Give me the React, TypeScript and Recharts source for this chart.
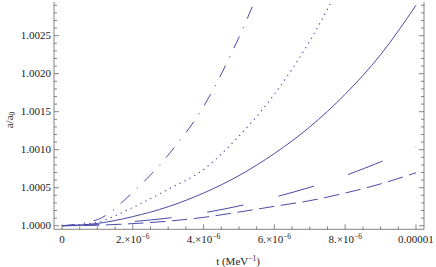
import React from 'react';
import { LineChart, Line, XAxis, YAxis } from 'recharts';

// time values (MeV^-1)
const tValues = [0, 0.000001, 0.000002, 0.000003, 0.000004, 0.000005, 0.000006, 0.000007, 0.000008, 0.000009, 0.00001];
// a/a0 for each curve
const solidCurve = [1.0, 1.00003, 1.00012, 1.00025, 1.00043, 1.00066, 1.00095, 1.0013, 1.00173, 1.00225, 1.0029];
const dottedCurve = [1.0, 1.00005, 1.00024, 1.00048, 1.00074, 1.00118, 1.00173, 1.00243, 1.0033, null, null];
const dashDotCurve = [1.0, 1.00008, 1.00044, 1.00093, 1.00157, 1.00248, 1.0036, null, null, null, null];
const longDashCurve = [1.0, 1.000015, 1.000055, 1.0001, 1.00017, 1.00026, 1.000375, 1.000505, 1.00066, 1.00084, 1.00104];
const dashedCurve = [1.0, 1.000007, 1.000028, 1.00006, 1.00011, 1.00018, 1.000255, 1.00033, 1.00043, 1.00055, 1.000697];

const xMajorTicks = [0, 0.000002, 0.000004, 0.000006, 0.000008, 0.00001];
const xTickLabels = [
  { base: '0', sup: '' },
  { base: '2.\u00d710', sup: '\u22126' },
  { base: '4.\u00d710', sup: '\u22126' },
  { base: '6.\u00d710', sup: '\u22126' },
  { base: '8.\u00d710', sup: '\u22126' },
  { base: '0.00001', sup: '' },
];
const yMajorTicks = [1.0, 1.0005, 1.001, 1.0015, 1.002, 1.0025];
const yTickLabels = ['1.0000', '1.0005', '1.0010', '1.0015', '1.0020', '1.0025'];

const X_MINOR = 0.0000005;
const Y_MINOR = 0.0001;
const xDomain = [-0.000000226, 0.000010226];
const yDomain = [0.999953, 1.002943];

const data = tValues.map((t, i) => ({
  t,
  solid: solidCurve[i],
  dotted: dottedCurve[i],
  dashDot: dashDotCurve[i],
  longDash: longDashCurve[i],
  dashed: dashedCurve[i],
}));

const xTicksAll: number[] = [];
for (let k = 0; k <= 20; k++) xTicksAll.push(k * X_MINOR);
const yTicksAll: number[] = [];
for (let k = 0; k <= 29; k++) yTicksAll.push(1 + k * Y_MINOR);

const FRAME = '#666666';
const LINE = '#4a4aa6';
const FONT = "'Liberation Serif', 'Times New Roman', serif";
const FS = 11;
const SUP = 7.5;

const makeXTick = (side: 'top' | 'bottom') => (props: any) => {
  const { x, y, payload } = props;
  const v = payload.value;
  const k = Math.round(v / X_MINOR);
  const major = k % 4 === 0;
  const len = major ? 5 : 3;
  const dir = side === 'bottom' ? -1 : 1;
  let label = null;
  if (side === 'bottom' && major) {
    const idx = xMajorTicks.findIndex((m) => Math.abs(m - v) < 1e-9);
    const lab = xTickLabels[idx];
    if (lab) {
      label = (
        <text x={x} y={y + 14} textAnchor="middle" style={{ fontFamily: FONT, fontSize: FS }} fill="#222">
          {lab.base}
          {lab.sup ? (
            <tspan dy={-4.5} style={{ fontSize: SUP }}>{lab.sup}</tspan>
          ) : null}
        </text>
      );
    }
  }
  return (
    <g>
      <line x1={x} x2={x} y1={y} y2={y + dir * len} stroke={FRAME} strokeWidth={0.8} />
      {label}
    </g>
  );
};

const makeYTick = (side: 'left' | 'right') => (props: any) => {
  const { x, y, payload } = props;
  const v = payload.value;
  const k = Math.round((v - 1) / Y_MINOR);
  const major = k % 5 === 0;
  const len = major ? 5 : 3;
  const dir = side === 'left' ? 1 : -1;
  let label = null;
  if (side === 'left' && major) {
    const idx = yMajorTicks.findIndex((m) => Math.abs(m - v) < 1e-9);
    if (idx >= 0) {
      label = (
        <text x={x - 3} y={y + 3.7} textAnchor="end" style={{ fontFamily: FONT, fontSize: FS }} fill="#222">
          {yTickLabels[idx]}
        </text>
      );
    }
  }
  return (
    <g>
      <line x1={x} x2={x + dir * len} y1={y} y2={y} stroke={FRAME} strokeWidth={0.8} />
      {label}
    </g>
  );
};

const YLabel = (props: any) => {
  const { viewBox } = props;
  const cx = viewBox.x + 9;
  const cy = 120;
  return (
    <text x={cx} y={cy} transform={`rotate(-90 ${cx} ${cy})`} textAnchor="middle" dominantBaseline="central" style={{ fontFamily: FONT, fontSize: FS }} fill="#222">
      a/a<tspan dy={3} style={{ fontSize: SUP }}>0</tspan>
    </text>
  );
};

const XLabel = (props: any) => {
  const { viewBox } = props;
  const cx = viewBox.x + viewBox.width / 2 - 1;
  const cy = viewBox.y + 36;
  return (
    <text x={cx} y={cy} textAnchor="middle" style={{ fontFamily: FONT, fontSize: FS }} fill="#222">
      t (MeV<tspan dy={-4.5} style={{ fontSize: SUP }}>{'\u22121'}</tspan><tspan dy={4.5}>)</tspan>
    </text>
  );
};

export default function App() {
  return (
    <div style={{ position: 'absolute', left: 0, top: 0, width: 436, height: 267, background: '#fff' }}>
      <LineChart width={436} height={267} data={data} margin={{ top: 2, right: 0, left: 0, bottom: 0 }}>
        <XAxis
          xAxisId="b"
          dataKey="t"
          type="number"
          domain={xDomain}
          allowDataOverflow
          ticks={xTicksAll}
          interval={0}
          tickSize={0}
          tickMargin={0}
          tickLine={false}
          tick={makeXTick('bottom')}
          axisLine={{ stroke: FRAME, strokeWidth: 0.8 }}
          height={37.7}
          orientation="bottom"
          label={{ content: XLabel }}
        />
        <XAxis
          xAxisId="t"
          dataKey="t"
          type="number"
          domain={xDomain}
          allowDataOverflow
          ticks={xTicksAll}
          interval={0}
          tickSize={0}
          tickMargin={0}
          tickLine={false}
          tick={makeXTick('top')}
          axisLine={{ stroke: FRAME, strokeWidth: 0.8 }}
          height={0}
          orientation="top"
        />
        <YAxis
          yAxisId="l"
          type="number"
          domain={yDomain}
          allowDataOverflow
          ticks={yTicksAll}
          interval={0}
          tickSize={0}
          tickMargin={0}
          tickLine={false}
          tick={makeYTick('left')}
          axisLine={{ stroke: FRAME, strokeWidth: 0.8 }}
          width={54}
          orientation="left"
          label={{ content: YLabel }}
        />
        <YAxis
          yAxisId="r"
          type="number"
          domain={yDomain}
          allowDataOverflow
          ticks={yTicksAll}
          interval={0}
          tickSize={0}
          tickMargin={0}
          tickLine={false}
          tick={makeYTick('right')}
          axisLine={{ stroke: FRAME, strokeWidth: 0.8 }}
          width={12}
          orientation="right"
        />
        <Line xAxisId="b" yAxisId="l" dataKey="solid" type="monotone" stroke={LINE} strokeWidth={1} dot={false} isAnimationActive={false} />
        <Line xAxisId="b" yAxisId="l" dataKey="dotted" type="monotone" stroke={LINE} strokeWidth={1.1} strokeDasharray="1.3 4.2" dot={false} isAnimationActive={false} />
        <Line xAxisId="b" yAxisId="l" dataKey="dashDot" type="monotone" stroke={LINE} strokeWidth={1} strokeDasharray="13 9 1.3 9" dot={false} isAnimationActive={false} />
        <Line xAxisId="b" yAxisId="l" dataKey="longDash" type="monotone" stroke={LINE} strokeWidth={1} strokeDasharray="37 36" dot={false} isAnimationActive={false} />
        <Line xAxisId="b" yAxisId="l" dataKey="dashed" type="monotone" stroke={LINE} strokeWidth={1} strokeDasharray="15.5 6.5" dot={false} isAnimationActive={false} />
      </LineChart>
    </div>
  );
}
